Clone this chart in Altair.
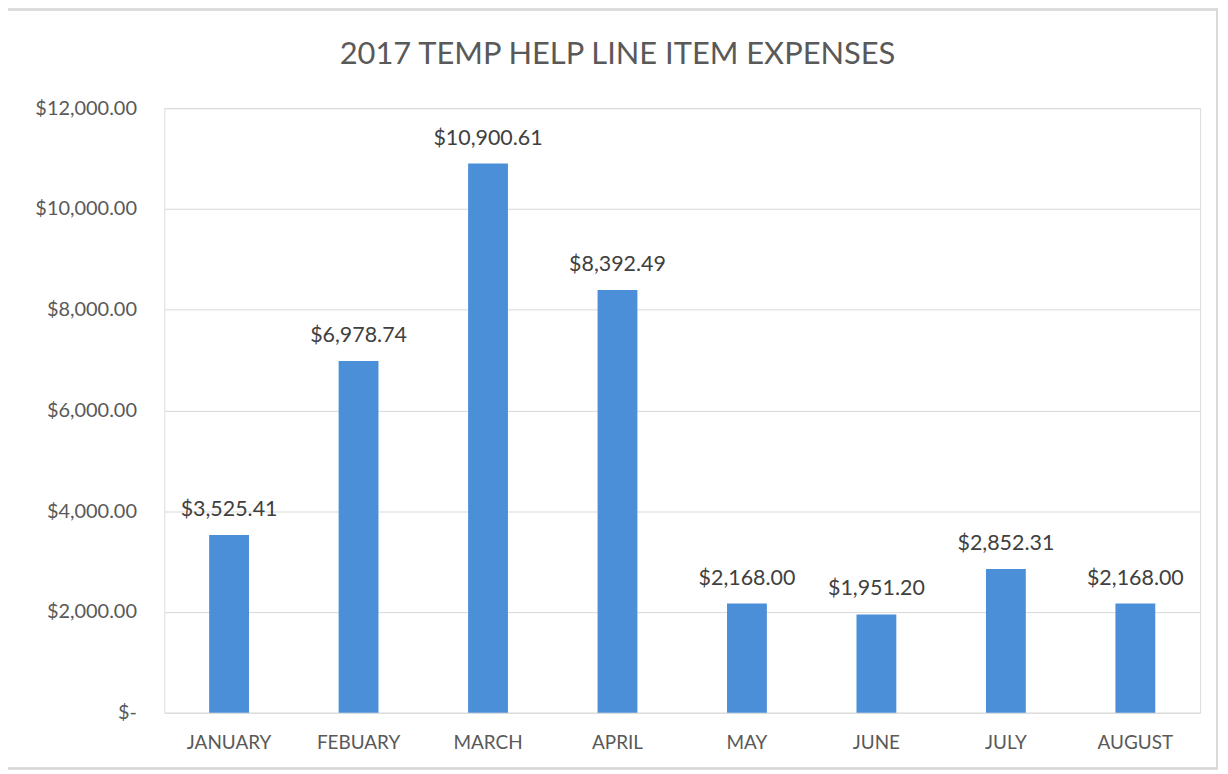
import altair as alt
import pandas as pd

months = ["JANUARY", "FEBUARY", "MARCH", "APRIL", "MAY", "JUNE", "JULY", "AUGUST"]
expenses = [3525.41, 6978.74, 10900.61, 8392.49, 2168.00, 1951.20, 2852.31, 2168.00]
y_ticks = [0, 2000, 4000, 6000, 8000, 10000, 12000]
title_text = ["2017 TEMP HELP LINE ITEM EXPENSES"]

df = pd.DataFrame({"month": months, "expense": expenses})
df["label"] = df["expense"].map(lambda v: "${:,.2f}".format(v))
tdf = pd.DataFrame({"t": title_text})

FONT = "Lato"
TEXT = "#595959"

x = alt.X("month:N", sort=months, title=None,
          scale=alt.Scale(paddingInner=0, paddingOuter=0),
          axis=alt.Axis(labelAngle=0, labelFontSize=19, labelColor=TEXT, labelFont=FONT,
                        labelPadding=21, domain=False, ticks=False, grid=False))
y = alt.Y("expense:Q", title=None,
          scale=alt.Scale(domain=[0, 12000], nice=False),
          axis=alt.Axis(values=y_ticks, labelFontSize=20, labelColor=TEXT, labelFont=FONT,
                        labelPadding=28, domain=False, ticks=False,
                        gridColor="#D9D9D9", gridWidth=1,
                        labelExpr="datum.value == 0 ? '$-\u00a0\u00a0\u00a0' : '$' + format(datum.value, ',.2f')"))

bars = alt.Chart(df).mark_bar(color="#4A8FD8", size=40).encode(x=x, y=y)
labels = alt.Chart(df).mark_text(baseline="alphabetic", dy=-19, fontSize=21.5, color="#404040",
                                 font=FONT).encode(x=x, y=y, text="label:N")

border = alt.Chart(df).mark_rect(fill=None, stroke="#D9D9D9", strokeWidth=1.5).encode(
    x=alt.value(-160), x2=alt.value(1057), y=alt.value(-99), y2=alt.value(663))

title = alt.Chart(tdf).mark_text(baseline="alphabetic", align="center", fontSize=31,
                                 color=TEXT, font=FONT).encode(
    x=alt.value(455), y=alt.value(-44), text="t:N")

chart = alt.layer(border, bars, labels, title).properties(
    width=1040, height=607,
    autosize=alt.AutoSizeParams(type="none"),
    padding={"left": 157, "top": 99, "right": 20, "bottom": 60},
).configure_view(stroke=None).configure(background="white")

chart.save("out.html", embed_options={"renderer": "svg", "actions": False})
